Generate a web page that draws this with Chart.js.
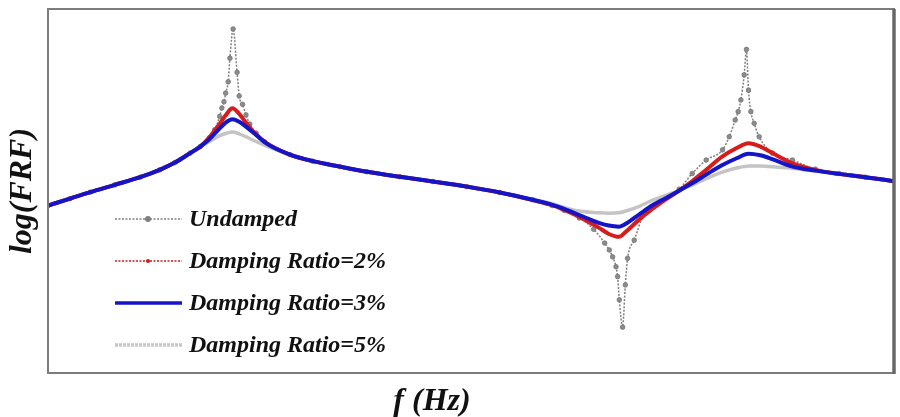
<!DOCTYPE html>
<html>
<head>
<meta charset="utf-8">
<title>FRF damping comparison</title>
<script src="https://cdn.jsdelivr.net/npm/chart.js@4.4.1/dist/chart.umd.min.js"></script>
<style>
    body { margin: 0; background: #ffffff; }
    #wrap { width: 900px; height: 417px; }
</style>
</head>
<body>
<div id="wrap"><canvas id="frf-chart" width="900" height="417"></canvas></div>
<script>
// Series labels
var seriesNames = ['Undamped', 'Damping Ratio=2%', 'Damping Ratio=3%', 'Damping Ratio=5%'];

// Undamped response (denser near the resonances / antiresonance)
var freqUndamped = [0, 2.6, 5.0, 7.9, 10.9, 13.2, 15.0, 16.8, 18.0, 19.1,
    19.7, 20.3, 20.55, 20.8, 21.0, 21.3, 21.5, 21.88, 22.35, 22.6,
    23.0, 23.4, 23.85, 24.6, 25.6, 28.6, 31.3, 34.5, 37.7, 41.6,
    45.5, 49.5, 53.4, 57.3, 59.6, 61.0, 62.8, 64.5, 65.8, 66.35,
    66.74, 67.14, 67.33, 67.53, 67.92, 68.24, 68.51, 69.3, 70.48, 72.6,
    74.6, 76.15, 77.8, 79.73, 80.52, 81.23, 81.58, 81.9, 82.29, 82.56,
    82.8, 83.08, 83.47, 84.06, 85.63, 87.99, 90.7, 93.5, 96.6, 100];
var logUndamped = [4.60, 4.79, 4.97, 5.17, 5.38, 5.58, 5.78, 6.04, 6.22, 6.47,
    6.68, 7.05, 7.28, 7.45, 7.69, 8.00, 8.65, 9.45, 8.26, 7.61,
    7.38, 7.09, 6.84, 6.59, 6.35, 6.00, 5.82, 5.67, 5.53, 5.39,
    5.26, 5.12, 4.96, 4.76, 4.60, 4.47, 4.26, 3.95, 3.57, 3.38,
    3.19, 2.92, 2.65, 2.01, 1.26, 2.42, 3.15, 3.65, 4.39, 4.78,
    5.05, 5.48, 5.85, 6.13, 6.49, 6.95, 7.18, 7.50, 8.19, 8.89,
    7.77, 7.18, 6.86, 6.49, 6.04, 5.85, 5.60, 5.48, 5.38, 5.27];

// Damped responses share one frequency grid
var freqDamped = [0, 2.6, 5.0, 7.9, 10.9, 13.2, 15.0, 16.8, 18.0, 19.1,
    20.3, 21.0, 21.8, 22.6, 23.4, 24.4, 25.8, 28.6, 31.3, 34.5,
    37.7, 41.6, 45.5, 49.5, 53.4, 57.3, 59.6, 61.0, 62.8, 65.2,
    66.3, 67.5, 68.3, 69.9, 71.4, 72.9, 74.6, 76.2, 77.8, 79.6,
    81.4, 82.8, 84.2, 85.2, 88.0, 90.7, 93.5, 96.6, 100];
var logDamp2 = [4.60, 4.79, 4.97, 5.17, 5.38, 5.58, 5.78, 6.04, 6.22, 6.48,
    6.85, 7.08, 7.27, 7.12, 6.88, 6.60, 6.32, 6.00, 5.82, 5.67,
    5.53, 5.39, 5.26, 5.12, 4.96, 4.75, 4.61, 4.48, 4.29, 3.98,
    3.82, 3.74, 3.88, 4.22, 4.50, 4.75, 5.01, 5.28, 5.58, 5.93,
    6.18, 6.31, 6.22, 6.10, 5.76, 5.58, 5.47, 5.38, 5.27];
var logDamp3 = [4.60, 4.79, 4.97, 5.17, 5.38, 5.58, 5.78, 6.04, 6.22, 6.43,
    6.72, 6.88, 6.97, 6.90, 6.77, 6.58, 6.31, 6.00, 5.82, 5.67,
    5.53, 5.39, 5.26, 5.12, 4.96, 4.76, 4.62, 4.51, 4.34, 4.12,
    4.05, 4.02, 4.10, 4.36, 4.60, 4.79, 5.01, 5.22, 5.45, 5.70,
    5.90, 6.02, 5.98, 5.91, 5.67, 5.56, 5.47, 5.38, 5.27];
var logDamp5 = [4.60, 4.79, 4.97, 5.17, 5.38, 5.58, 5.78, 6.04, 6.22, 6.36,
    6.52, 6.58, 6.62, 6.57, 6.49, 6.38, 6.24, 5.99, 5.82, 5.67,
    5.53, 5.39, 5.26, 5.12, 4.96, 4.77, 4.65, 4.55, 4.45, 4.40,
    4.39, 4.40, 4.45, 4.58, 4.74, 4.87, 5.01, 5.17, 5.34, 5.51,
    5.63, 5.69, 5.69, 5.67, 5.62, 5.55, 5.47, 5.38, 5.27];

// Turn two arrays into {x, y} points
function toPoints(xs, ys) {
    var pts = [];
    for (var i = 0; i < xs.length; i++) {
        pts.push({ x: xs[i], y: ys[i] });
    }
    return pts;
}

function font(size) {
    return 'italic bold ' + size + 'px "Liberation Serif", "DejaVu Serif", serif';
}

// Legend look for each series (drawn by the plugin below)
var legendStyles = [
    { color: '#808080', width: 1.5, dash: [2, 1.5], marker: 3 },
    { color: '#cc1a1a', width: 1.5, dash: [2, 1.5], marker: 2 },
    { color: '#1414c8', width: 3.5, dash: [], marker: 0 },
    { color: '#c6c6c6', width: 3.5, dash: [3, 1], marker: 0 }
];

// Frame, axis titles and legend
var framePlugin = {
    id: 'framePlugin',
    afterDraw: function (chart) {
        var ctx = chart.ctx;
        var a = chart.chartArea;
        ctx.save();

        // plot frame
        ctx.strokeStyle = '#7c7c7c';
        ctx.lineWidth = 2;
        ctx.strokeRect(a.left, a.top, a.right - a.left, a.bottom - a.top);
        ctx.strokeStyle = '#686868';
        ctx.lineWidth = 3.5;
        ctx.beginPath();
        ctx.moveTo(a.right, a.top);
        ctx.lineTo(a.right, a.bottom + 1);
        ctx.stroke();

        // axis titles
        ctx.fillStyle = '#111111';
        ctx.font = font(32);
        ctx.textAlign = 'center';
        ctx.textBaseline = 'middle';
        ctx.fillText('f (Hz)', 432, 402);
        ctx.save();
        ctx.translate(23, (a.top + a.bottom) / 2);
        ctx.rotate(-Math.PI / 2);
        ctx.fillText('log(FRF)', 0, 0);
        ctx.restore();

        // legend
        ctx.font = font(24);
        ctx.textAlign = 'left';
        chart.data.datasets.forEach(function (ds, i) {
            var st = legendStyles[i];
            var y = a.bottom - 154 + i * 42;
            ctx.strokeStyle = st.color;
            ctx.lineWidth = st.width;
            ctx.setLineDash(st.dash);
            ctx.beginPath();
            ctx.moveTo(115, y);
            ctx.lineTo(182, y);
            ctx.stroke();
            ctx.setLineDash([]);
            if (st.marker > 0) {
                ctx.fillStyle = st.color;
                ctx.beginPath();
                ctx.arc(148, y, st.marker, 0, Math.PI * 2);
                ctx.fill();
            }
            ctx.fillStyle = '#111111';
            ctx.fillText(ds.label, 189, y + 1);
        });
        ctx.restore();
    }
};

var frfChart = new Chart(document.getElementById('frf-chart').getContext('2d'), {
    type: 'line',
    data: {
        datasets: [{
            label: seriesNames[0],
            data: toPoints(freqUndamped, logUndamped),
            borderColor: '#7f7f7f',
            borderWidth: 1.5,
            borderDash: [2, 1.5],
            pointRadius: 2.3,
            pointBackgroundColor: '#8c8c8c',
            pointBorderColor: '#737373',
            pointBorderWidth: 0.8,
            order: 3
        }, {
            label: seriesNames[1],
            data: toPoints(freqDamped, logDamp2),
            borderColor: '#d81c1c',
            borderWidth: 4,
            pointRadius: 0,
            order: 1
        }, {
            label: seriesNames[2],
            data: toPoints(freqDamped, logDamp3),
            borderColor: '#1414c8',
            borderWidth: 4,
            pointRadius: 0,
            order: 0
        }, {
            label: seriesNames[3],
            data: toPoints(freqDamped, logDamp5),
            borderColor: '#c4c4c4',
            borderWidth: 3.5,
            pointRadius: 0,
            order: 2
        }]
    },
    options: {
        responsive: false,
        animation: false,
        layout: {
            padding: { left: 48, top: 9, right: 6, bottom: 44 }
        },
        elements: {
            line: { cubicInterpolationMode: 'monotone' }
        },
        plugins: {
            legend: { display: false },
            tooltip: { enabled: false }
        },
        scales: {
            x: { type: 'linear', min: 0, max: 100, display: false },
            y: { type: 'linear', min: 0, max: 10, display: false }
        }
    },
    plugins: [framePlugin]
});
</script>
</body>
</html>
